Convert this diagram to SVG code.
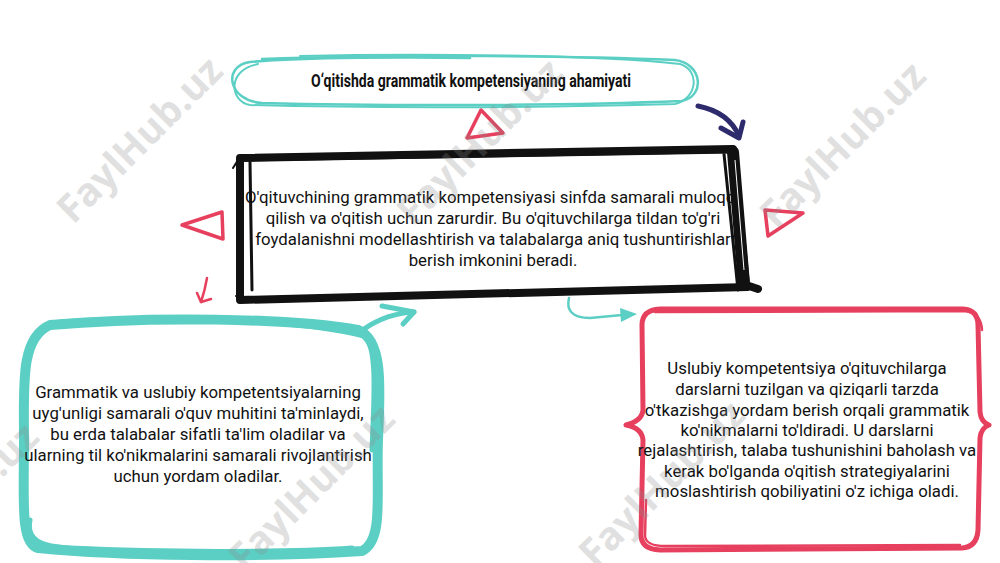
<svg xmlns="http://www.w3.org/2000/svg" width="1000" height="563" viewBox="0 0 1000 563">
<style>
.teal{fill:none;stroke:#5ccfc4;stroke-linecap:round;stroke-linejoin:round}
.red{fill:none;stroke:#e6405e;stroke-linecap:round;stroke-linejoin:round}
.blk{fill:none;stroke:#111;stroke-linecap:round;stroke-linejoin:round}
.navy{fill:none;stroke:#2d2b6b;stroke-linecap:round;stroke-linejoin:round}
.body{font-family:Roboto,"Liberation Sans",sans-serif;font-size:16.8px;fill:#111;text-anchor:middle}
.title{font-family:Roboto,"Liberation Sans",sans-serif;font-size:18px;font-weight:bold;fill:#111;text-anchor:middle}
.wm{font-family:"Open Sans","Liberation Sans",sans-serif;font-size:39px;font-weight:bold;fill:#8a8a8a;opacity:0.26;text-anchor:middle}
</style>
<rect width="1000" height="563" fill="#fff"/>

<g id="title">
<path class="teal" stroke-width="2.5" d="M262,59 C400,54 580,56 675,60 C702,63 706,96 682,101 C560,106 380,106 262,103 C228,101 222,66 250,62 C300,57 420,57 470,58"/>
<path class="teal" stroke-width="2" d="M300,56 C420,53 600,55 680,64 C700,70 698,98 675,104 C540,108 360,108 250,105 C230,102 226,70 258,64"/>
<text class="title" x="471" y="87" textLength="320" lengthAdjust="spacingAndGlyphs">O‘qitishda grammatik kompetensiyaning ahamiyati</text>
</g>

<g id="center">
<rect x="242" y="156" width="500" height="140" fill="#fff"/>
<text class="body" x="493" y="203">O'qituvchining grammatik kompetensiyasi sinfda samarali muloqot</text>
<text class="body" x="493" y="224">qilish va o'qitish uchun zarurdir. Bu o'qituvchilarga tildan to'g'ri</text>
<text class="body" x="493" y="245">foydalanishni modellashtirish va talabalarga aniq tushuntirishlar</text>
<text class="body" x="493" y="266">berish imkonini beradi.</text>
<path class="blk" stroke-width="8" d="M240,158 L733,149 L746,285 L758,289 M748,287 L240,300 L240,158"/>
<path class="blk" stroke-width="12" d="M733,152 L744,284"/>
<path class="blk" stroke-width="3" d="M250,162 L252,290 M244,160 L732,152 M724,154 L738,290"/>
<path stroke="#fff" stroke-width="1" fill="none" d="M735,160 L744,270"/>
<path class="blk" stroke-width="2" d="M233,168 L238,160 M236,296 L246,302"/>
</g>

<g id="left">
<path class="teal" stroke-width="10" d="M50,325 C150,316 290,318 358,330 C384,340 380,390 378,440 C376,495 384,540 362,551 C260,558 120,556 38,548 C20,544 24,500 24,440 C24,385 20,338 50,325 Z"/>
<path class="teal" stroke-width="5" d="M60,322 C160,314 300,320 364,336 C378,346 374,400 372,450 M30,520 C26,540 40,546 70,548 C160,552 280,553 352,548"/>
<text class="body" x="198" y="398">Grammatik va uslubiy kompetentsiyalarning</text>
<text class="body" x="198" y="419">uyg'unligi samarali o'quv muhitini ta'minlaydi,</text>
<text class="body" x="198" y="440">bu erda talabalar sifatli ta'lim oladilar va</text>
<text class="body" x="198" y="461">ularning til ko'nikmalarini samarali rivojlantirish</text>
<text class="body" x="198" y="482">uchun yordam oladilar.</text>
</g>

<g id="right">
<path class="red" stroke-width="5" d="M660,309 L963,309 Q978,310 978,325 L980,412 Q981,422 989,425 Q981,428 980,438 L978,530 Q977,547 962,548 L660,550 Q641,549 641,535 L643,440 Q642,428 626,425 Q642,421 643,410 L642,325 Q642,310 660,309 Z"/>
<path class="red" stroke-width="2.5" d="M655,312 L965,311 Q981,313 982,330 M646,500 L645,536 Q646,546 665,546 L960,545"/>
<text class="body" x="807" y="374">Uslubiy kompetentsiya o'qituvchilarga</text>
<text class="body" x="807" y="395">darslarni tuzilgan va qiziqarli tarzda</text>
<text class="body" x="807" y="416">o'tkazishga yordam berish orqali grammatik</text>
<text class="body" x="807" y="436">ko'nikmalarni to'ldiradi. U darslarni</text>
<text class="body" x="807" y="456">rejalashtirish, talaba tushunishini baholash va</text>
<text class="body" x="807" y="477">kerak bo'lganda o'qitish strategiyalarini</text>
<text class="body" x="807" y="497">moslashtirish qobiliyatini o'z ichiga oladi.</text>
</g>

<g id="decor">
<path class="red" stroke-width="3.5" d="M481,110 L467,138 L503,133 Z"/>
<path class="red" stroke-width="3.5" d="M182,225 L222,212 L223,239 Z"/>
<path class="red" stroke-width="3.5" d="M765,210 L803,213 L768,236 Z"/>
</g>

<g id="connectors">
<path class="navy" stroke-width="5" d="M698,106 C718,110 732,120 739,136"/>
<path class="navy" stroke-width="5" d="M721,128 L739,138 L743,122"/>
<path class="red" stroke-width="2.5" d="M207,278 Q205,290 201,302"/>
<path class="red" stroke-width="2.5" d="M197,293 L201,302 L211,299"/>
<path class="teal" stroke-width="5" d="M364,329 C380,318 395,313 414,312"/>
<path class="teal" stroke-width="5" d="M382,306 L414,312 L403,324"/>
<path class="teal" stroke-width="2.5" d="M569,298 C566,310 572,318 590,318 L622,315"/>
<path d="M620,308 L637,314 L621,322 Z" fill="#5ccfc4"/>
</g>

<g id="watermarks">
<text class="wm" transform="rotate(-45 140 140)" x="140" y="153">FaylHub.uz</text>
<text class="wm" transform="rotate(-45 480 142)" x="480" y="155">FaylHub.uz</text>
<text class="wm" transform="rotate(-45 843 145)" x="843" y="158">FaylHub.uz</text>
<text class="wm" transform="rotate(-45 312 488)" x="312" y="501">FaylHub.uz</text>
<text class="wm" transform="rotate(-45 662 484)" x="662" y="497">FaylHub.uz</text>
<text class="wm" transform="rotate(-45 -44 506)" x="-44" y="519">FaylHub.uz</text>
</g>
</svg>
